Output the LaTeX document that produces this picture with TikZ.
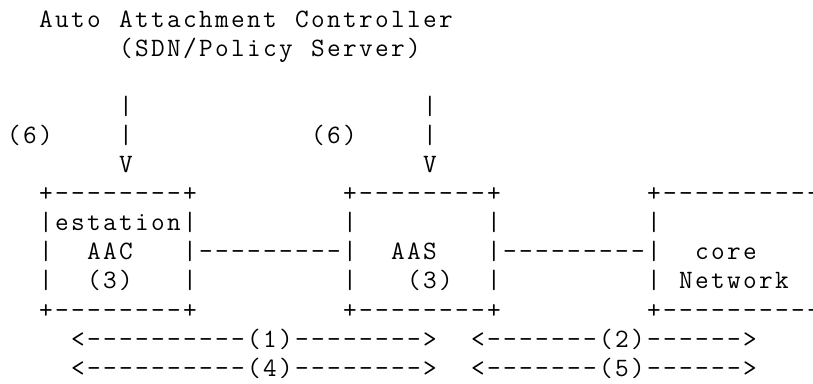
\documentclass[tikz,border=0pt]{standalone}
\begin{document}
\begin{tikzpicture}[x=1pt,y=1pt,
  ascii/.style={anchor=base west, inner sep=0pt, outer sep=0pt,
    font=\ttfamily\fontsize{26.5pt}{29pt}\selectfont, text=black}]
% every glyph sits centred in a 16pt wide cell of the character grid
\def\monoloop#1{\ifx\relax#1\else\hbox to 16pt{\hss#1\hss}\expandafter\monoloop\fi}
\newcommand\monochars[1]{\monoloop#1\relax}
% \cell{name}{column}{row}{characters}: 16pt per column, 29.1pt per row
\newcommand\cell[4]{\node[ascii] (#1) at ({6+16*#2},{-(27+29.1*#3)}) {\monochars{#4}};}
\useasboundingbox (0,0) rectangle (813,-383);
\fill[white] (0,0) rectangle (813,-383);

% controller
\cell{ctrlA}{2}{0}{Auto}
\cell{ctrlB}{7}{0}{Attachment}
\cell{ctrlC}{18}{0}{Controller}
\cell{ctrlD}{7}{1}{(SDN/Policy}
\cell{ctrlE}{19}{1}{Server)}

% links from the controller
\cell{barLa}{7}{3}{|}
\cell{barRa}{26}{3}{|}
\cell{sixL}{0}{4}{(6)}
\cell{barLb}{7}{4}{|}
\cell{sixR}{19}{4}{(6)}
\cell{barRb}{26}{4}{|}
\cell{tipL}{7}{5}{V}
\cell{tipR}{26}{5}{V}

% box tops
\cell{aacTop}{2}{6}{+--------+}
\cell{aasTop}{21}{6}{+--------+}
\cell{coreTop}{40}{6}{+----------}

% box row 1
\cell{aacR1}{2}{7}{|estation|}
\cell{aasL1}{21}{7}{|}
\cell{aasR1}{30}{7}{|}
\cell{coreL1}{40}{7}{|}

% box row 2 with links
\cell{aacL2}{2}{8}{|}
\cell{aacName}{5}{8}{AAC}
\cell{linkA}{11}{8}{|---------|}
\cell{aasName}{24}{8}{AAS}
\cell{linkB}{30}{8}{|---------|}
\cell{coreName}{43}{8}{core}

% box row 3
\cell{aacL3}{2}{9}{|}
\cell{aacNum}{5}{9}{(3)}
\cell{aacR3}{11}{9}{|}
\cell{aasL3}{21}{9}{|}
\cell{aasNum}{25}{9}{(3)}
\cell{aasR3}{30}{9}{|}
\cell{coreL3}{40}{9}{|}
\cell{coreNet}{42}{9}{Network}

% box bottoms
\cell{aacBot}{2}{10}{+--------+}
\cell{aasBot}{21}{10}{+--------+}
\cell{coreBot}{40}{10}{+----------}

% exchanges
\cell{ex1}{4}{11}{<----------(1)-------->}
\cell{ex2}{29}{11}{<-------(2)------>}
\cell{ex4}{4}{12}{<----------(4)-------->}
\cell{ex5}{29}{12}{<-------(5)------>}
\end{tikzpicture}
\end{document}
